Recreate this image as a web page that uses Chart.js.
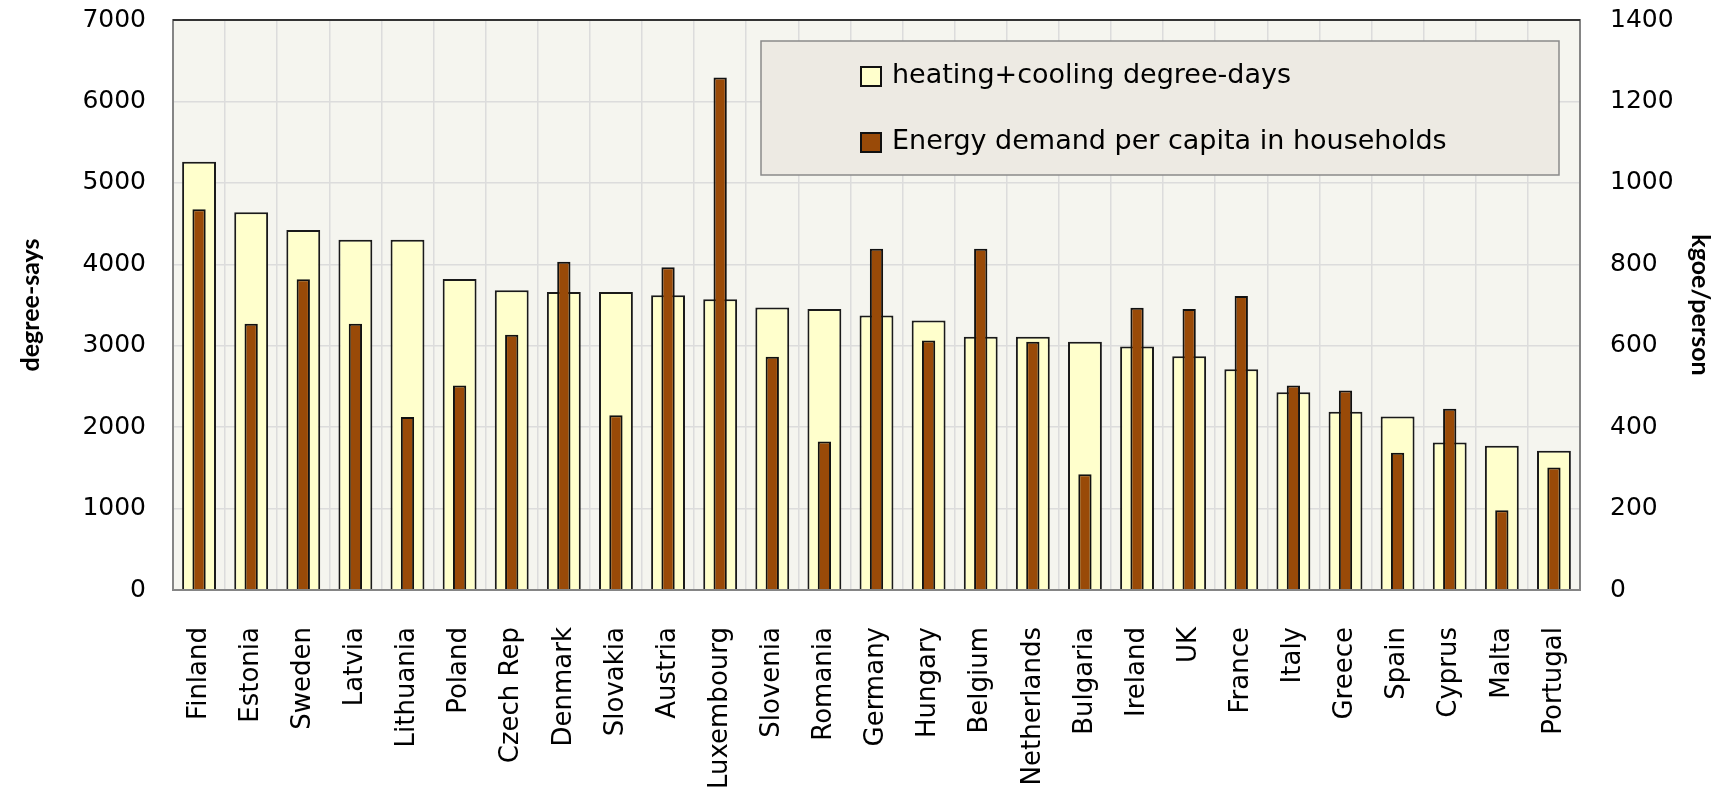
<!DOCTYPE html>
<html>
<head>
<meta charset="utf-8">
<script src="https://cdn.jsdelivr.net/npm/chart.js@4"></script>
<style>
  html, body { margin: 0; padding: 0; background: #ffffff; }
  #wrap { width: 1733px; height: 799px; position: relative; }
</style>
</head>
<body>
<div id="wrap"><canvas id="chart"></canvas></div>
<script>
// data
const countries = ['Finland', 'Estonia', 'Sweden', 'Latvia', 'Lithuania', 'Poland', 'Czech Rep', 'Denmark',
    'Slovakia', 'Austria', 'Luxembourg', 'Slovenia', 'Romania', 'Germany', 'Hungary', 'Belgium',
    'Netherlands', 'Bulgaria', 'Ireland', 'UK', 'France', 'Italy', 'Greece', 'Spain', 'Cyprus', 'Malta', 'Portugal'];
const degreeDays = [5260, 4640, 4420, 4300, 4300, 3820, 3680, 3660, 3660, 3620, 3570, 3470, 3450, 3370,
    3310, 3110, 3110, 3050, 2990, 2870, 2710, 2430, 2190, 2130, 1810, 1770, 1710];
const energyPerCapita = [935, 654, 763, 654, 425, 502, 627, 806, 429, 793, 1259, 573, 365, 838,
    613, 838, 610, 284, 693, 690, 722, 502, 490, 337, 445, 196, 301];
const seriesNames = ['heating+cooling degree-days', 'Energy demand per capita in households'];

const tickFont = { family: "'DejaVu Sans', sans-serif", size: 25 };
const catFont = { family: "'DejaVu Sans', sans-serif", size: 26 };
const titleFont = { family: 'Lato', size: 25, weight: 'bold' };

// plot background + frame + legend box inside the plot
const plotDecor = {
    id: 'plotDecor',
    beforeDraw(chart) {
        const a = chart.chartArea, ctx = chart.ctx;
        ctx.save();
        ctx.fillStyle = '#f5f5ef';
        ctx.fillRect(a.left, a.top, a.right - a.left, a.bottom - a.top);
        ctx.restore();
    },
    afterDraw(chart) {
        const a = chart.chartArea, ctx = chart.ctx;
        ctx.save();
        ctx.lineWidth = 2;
        ctx.strokeStyle = '#858585';
        ctx.strokeRect(a.left, a.top, a.right - a.left, a.bottom - a.top);
        ctx.strokeStyle = '#333333';
        ctx.beginPath();
        ctx.moveTo(a.left, a.top);
        ctx.lineTo(a.right, a.top);
        ctx.stroke();

        // legend
        const bx = 761, by = 41, bw = 798, bh = 134;
        ctx.fillStyle = '#edeae3';
        ctx.fillRect(bx, by, bw, bh);
        ctx.lineWidth = 1.5;
        ctx.strokeStyle = '#8a8a8a';
        ctx.strokeRect(bx, by, bw, bh);
        ctx.font = "27px 'DejaVu Sans', sans-serif";
        ctx.textBaseline = 'middle';
        ctx.textAlign = 'left';
        chart.data.datasets.forEach(function(ds, i) {
            const sy = 67 + i * 66;
            ctx.fillStyle = ds.backgroundColor;
            ctx.fillRect(861, sy, 20, 19);
            ctx.lineWidth = 2;
            ctx.strokeStyle = '#111111';
            ctx.strokeRect(861, sy, 20, 19);
            ctx.fillStyle = '#000000';
            ctx.fillText(ds.label, 892, sy + 9);
        });
        ctx.restore();
    }
};

function noPadY(scale, w) {
    scale.width = w;
    scale.paddingTop = 0;
    scale.paddingBottom = 0;
}

const chart = new Chart(document.getElementById('chart').getContext('2d'), {
    type: 'bar',
    data: {
        labels: countries,
        datasets: [{
            label: seriesNames[0],
            data: degreeDays,
            yAxisID: 'y',
            backgroundColor: '#ffffcc',
            borderColor: '#1a1a1a',
            borderWidth: 2,
            grouped: false,
            categoryPercentage: 1,
            barPercentage: 0.65,
            order: 1
        }, {
            label: seriesNames[1],
            data: energyPerCapita,
            yAxisID: 'y1',
            backgroundColor: '#994a08',
            borderColor: '#111111',
            borderWidth: 2,
            grouped: false,
            categoryPercentage: 1,
            barPercentage: 0.255,
            order: 0
        }]
    },
    options: {
        responsive: true,
        maintainAspectRatio: false,
        animation: false,
        layout: { padding: { top: 20, left: 0, right: 0, bottom: 0 } },
        plugins: {
            legend: { display: false },
            tooltip: { enabled: false }
        },
        scales: {
            x: {
                grid: { color: '#dcdcdc', lineWidth: 1.5, drawTicks: false, offset: true },
                border: { display: false },
                ticks: {
                    color: '#000000',
                    font: catFont,
                    maxRotation: 90,
                    minRotation: 90,
                    autoSkip: false,
                    padding: 37
                },
                afterFit(scale) {
                    scale.height = 209;
                    scale.paddingLeft = 0;
                    scale.paddingRight = 0;
                }
            },
            y: {
                position: 'left',
                min: 0,
                max: 7000,
                grid: { color: '#dcdcdc', lineWidth: 1.5, drawTicks: false },
                border: { display: false },
                ticks: {
                    stepSize: 1000, color: '#000000', font: tickFont, padding: 27,
                    callback: function(v) { return String(v); }
                },
                title: {
                    display: true,
                    text: 'degree-says',
                    color: '#000000',
                    font: titleFont,
                    padding: { top: 16, bottom: 0 }
                },
                afterFit(scale) { noPadY(scale, 173); }
            },
            y1: {
                position: 'right',
                min: 0,
                max: 1400,
                grid: { display: false, drawTicks: false },
                border: { display: false },
                ticks: {
                    stepSize: 200, color: '#000000', font: tickFont, padding: 30,
                    callback: function(v) { return String(v); }
                },
                title: {
                    display: true,
                    text: 'kgoe/person',
                    color: '#000000',
                    font: titleFont,
                    padding: { top: 18, bottom: 0 }
                },
                afterFit(scale) { noPadY(scale, 153); }
            }
        }
    },
    plugins: [plotDecor]
});
</script>
</body>
</html>
